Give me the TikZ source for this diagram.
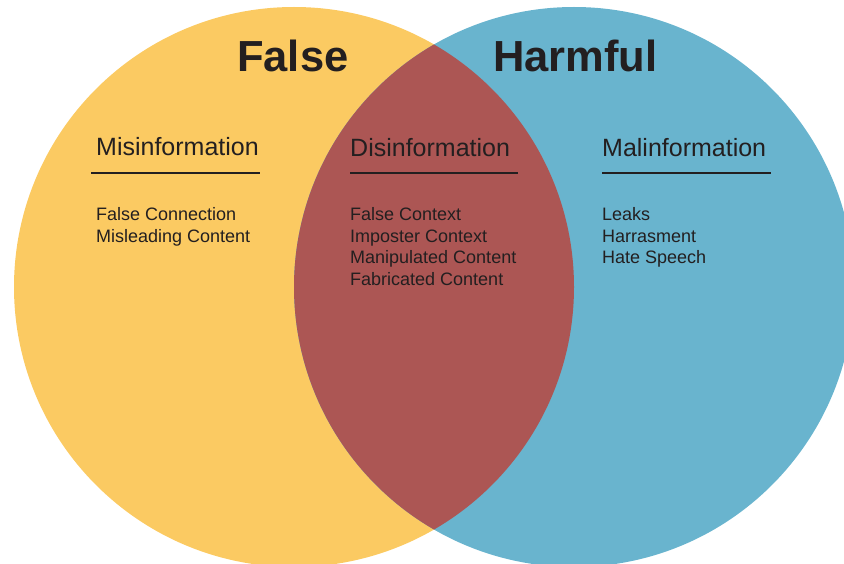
\documentclass[tikz,border=0pt]{standalone}
\usepackage{fontspec}
\setmainfont{Liberation Sans}
\usepackage{xcolor}
\usepackage{tikz}
\definecolor{FalseYellow}{HTML}{FBCA62}
\definecolor{HarmBlue}{HTML}{69B4CE}
\definecolor{OverlapRed}{HTML}{AC5654}
\definecolor{TextDark}{HTML}{231F20}
\begin{document}
\begin{tikzpicture}[
      x=1pt, y=-1pt,
      every node/.style={inner sep=0pt, anchor=base west, text=TextDark},
      title/.style={font=\fontsize{43.5}{50}\selectfont\bfseries},
      heading/.style={font=\fontsize{25}{30}\selectfont},
      items/.style={align=left, font=\fontsize{18}{21.5}\selectfont},
      rule/.style={TextDark, line width=2.4pt}
    ]
      \clip (0,0) rectangle (844,564);
      % Circles
      \fill[FalseYellow] (294,287) circle[radius=280pt];
      \fill[HarmBlue] (574,287) circle[radius=280pt];
      \begin{scope}
        \clip (294,287) circle[radius=280pt];
        \fill[OverlapRed] (574,287) circle[radius=280pt];
      \end{scope}
      % Titles
      \node[title] (false) at (237,72) {False};
      \node[title] (harmful) at (493,72) {Harmful};
      % Headings
      \node[heading] (mis) at (96,156) {Misinformation};
      \node[heading] (dis) at (350,157) {Disinformation};
      \node[heading] (mal) at (602,157) {Malinformation};
      \draw[rule] (91,173) -- (260,173);
      \draw[rule] (350,173) -- (518,173);
      \draw[rule] (602,173) -- (771,173);
      % Lists (placed by the baseline of their last line)
      \node[items] (mislist) at (96,242.5) {False Connection\\Misleading Content};
      \node[items] (dislist) at (350,285.5) {False Context\\Imposter Context\\Manipulated Content\\Fabricated Content};
      \node[items] (mallist) at (602,264) {Leaks\\Harrasment\\Hate Speech};
    \end{tikzpicture}
\end{document}
